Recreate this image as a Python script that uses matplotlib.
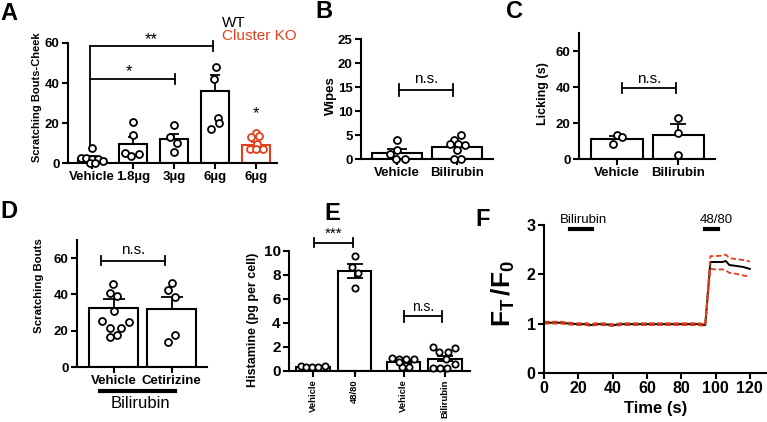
import matplotlib
matplotlib.use("Agg")
import matplotlib.pyplot as plt
import numpy as np

plt.rcParams['font.family'] = ['Liberation Sans', 'DejaVu Sans']
plt.rcParams['mathtext.fontset'] = 'custom'
plt.rcParams['mathtext.bf'] = 'Liberation Sans:bold'
plt.rcParams['mathtext.rm'] = 'Liberation Sans'
plt.rcParams['mathtext.it'] = 'Liberation Sans:italic'

RED = '#E2401C'

# ---------------- Data ----------------
# Panel A
A_cats = ['Vehicle', '1.8µg', '3µg', '6µg', '6µg']
A_means = [2.2, 9.3, 11.8, 35.8, 8.9]
A_sem = [1.4, 3.8, 2.9, 8.4, 1.8]
A_pts = [[7.7, 2.3, 2.5, 1.8, 1.8, 1.2, 0.2, 0.2],
         [20.7, 14.0, 4.8, 3.5, 4.3],
         [19.0, 13.2, 9.8, 5.7],
         [48.0, 42.0, 22.3, 20.0, 17.0],
         [14.8, 13.2, 13.5, 9.5, 7.2, 6.8, 7.2]]
A_off = [[0.0, -0.28, -0.14, 0.0, 0.14, 0.28, -0.06, 0.08],
         [0.0, 0.0, -0.2, -0.05, 0.15],
         [0.0, -0.1, 0.08, 0.0],
         [0.02, -0.02, 0.06, 0.1, -0.09],
         [0.0, -0.13, 0.08, 0.02, -0.16, 0.0, 0.16]]
A_colors = ['black', 'black', 'black', 'black', RED]

# Panel B
B_cats = ['Vehicle', 'Bilirubin']
B_means = [1.3, 2.4]
B_sem = [0.7, 0.8]
B_pts = [[4.0, 1.8, 1.0, 0.0, 0.0],
         [5.0, 4.0, 3.2, 3.2, 3.0, 1.8, 0.0, 0.0]]
B_off = [[0.0, 0.0, -0.12, -0.02, 0.13],
         [0.07, -0.05, -0.12, 0.02, 0.13, 0.0, -0.05, 0.07]]

# Panel C
C_cats = ['Vehicle', 'Bilirubin']
C_means = [11.1, 13.1]
C_sem = [1.7, 6.2]
C_pts = [[13.3, 12.2, 8.3], [23.0, 14.3, 2.2]]
C_off = [[0.0, 0.08, -0.06], [0.0, 0.0, 0.0]]

# Panel D
D_cats = ['Vehicle', 'Cetirizine']
D_means = [32.5, 31.9]
D_sem = [4.9, 6.9]
D_pts = [[45.6, 40.7, 38.9, 30.6, 25.5, 24.6, 21.7, 21.7, 16.8, 17.9],
         [46.4, 42.6, 38.8, 17.7, 13.7]]
D_off = [[-0.01, -0.07, 0.06, 0.0, -0.2, 0.26, -0.07, 0.12, -0.07, 0.06],
         [0.0, -0.07, 0.06, 0.06, -0.07]]

# Panel E
E_cats = ['Vehicle', '48/80', 'Vehicle', 'Bilirubin']
E_pos = [0, 1, 2.18, 3.18]
E_means = [0.33, 8.33, 0.78, 1.03]
E_sem = [0.05, 0.55, 0.12, 0.2]
E_pts = [[0.45, 0.3, 0.3, 0.3, 0.45],
         [9.6, 8.7, 8.2, 6.9],
         [1.1, 1.0, 1.0, 1.0, 0.3, 0.3, 0.75],
         [2.0, 1.58, 1.58, 1.95, 0.98, 0.28, 0.28, 0.28, 0.56]]
E_off = [[-0.3, -0.17, -0.03, 0.12, 0.29],
         [0.0, -0.07, 0.08, 0.0],
         [-0.27, -0.11, 0.05, 0.24, -0.03, 0.13, -0.12],
         [-0.28, -0.14, 0.06, 0.24, 0.02, -0.28, -0.12, 0.04, 0.24]]

# Panel F (time course)
F_t = [0, 5, 10, 15, 20, 25, 27, 30, 35, 40, 45, 50, 55, 60, 65, 70, 75, 80,
       85, 90, 94, 97, 100, 104, 106, 108, 112, 116, 120]
F_mean = [1.02, 1.02, 1.02, 1.00, 0.99, 0.99, 0.97, 0.99, 0.99, 0.97, 0.99,
          0.99, 0.99, 0.99, 0.99, 0.99, 0.99, 0.99, 0.99, 0.99, 0.97,
          2.25, 2.25, 2.25, 2.27, 2.19, 2.17, 2.15, 2.11]
F_upper = [1.04, 1.04, 1.04, 1.02, 1.01, 1.01, 0.99, 1.01, 1.01, 0.99, 1.01,
           1.01, 1.01, 1.01, 1.01, 1.01, 1.01, 1.01, 1.01, 1.01, 0.99,
           2.37, 2.37, 2.38, 2.40, 2.33, 2.31, 2.29, 2.26]
F_lower = [1.00, 1.00, 1.00, 0.98, 0.97, 0.97, 0.95, 0.97, 0.97, 0.95, 0.97,
           0.97, 0.97, 0.97, 0.97, 0.97, 0.97, 0.97, 0.97, 0.97, 0.95,
           2.11, 2.10, 2.10, 2.08, 2.03, 2.01, 1.98, 1.95]

W, H = 767, 422
fig = plt.figure(figsize=(W / 100, H / 100), dpi=100)


def rect(l, t, r, b):
    return [l / W, 1 - b / H, (r - l) / W, (b - t) / H]


def style(ax, fs=9.5):
    for s in ['top', 'right']:
        ax.spines[s].set_visible(False)
    for s in ['left', 'bottom']:
        ax.spines[s].set_linewidth(1.5)
    ax.tick_params(width=1.5, length=4, labelsize=fs, pad=2)
    for lab in ax.get_xticklabels() + ax.get_yticklabels():
        lab.set_fontweight('bold')


def bars(ax, pos, means, sem, pts, off, width, colors=None, both=False,
         ms=5, cap=4):
    for i, x in enumerate(pos):
        c = colors[i] if colors else 'black'
        ax.bar(x, means[i], width=width, facecolor='white', edgecolor=c,
               linewidth=1.5, zorder=2)
        lo = sem[i] if both else 0
        ax.errorbar(x, means[i], yerr=[[lo], [sem[i]]], color=c, capsize=cap,
                    elinewidth=1.3, capthick=1.3, zorder=3)
        ax.plot(np.array(off[i]) + x, pts[i], 'o', mfc='white', mec=c,
                mew=1.3, ms=ms, zorder=4, clip_on=False)


def bracket(ax, x1, x2, y, h, text, ty, fs=11):
    ax.plot([x1, x2], [y, y], color='black', lw=1.3, clip_on=False)
    ax.plot([x1, x1], [y - h, y + h], color='black', lw=1.3, clip_on=False)
    ax.plot([x2, x2], [y - h, y + h], color='black', lw=1.3, clip_on=False)
    ax.text((x1 + x2) / 2, ty, text, ha='center', va='center', fontsize=fs)


# ---------------- A ----------------
axA = fig.add_axes(rect(68, 43, 277, 163))
posA = np.arange(len(A_cats))
bars(axA, posA, A_means, A_sem, A_pts, A_off, 0.7, colors=A_colors, cap=3.6)
axA.set_xlim(-0.585, 4.51)
axA.set_ylim(0, 60)
axA.set_yticks([0, 20, 40, 60])
axA.set_xticks(posA)
axA.set_xticklabels(A_cats)
style(axA)
axA.set_ylabel('Scratching Bouts-Cheek', fontsize=8, fontweight='bold')
axA.yaxis.set_label_coords(-0.124, 0.55)
# brackets
axA.plot([-0.05, -0.05], [6, 58.3], color='black', lw=1.3)
axA.plot([-0.05, 2.95], [58.3, 58.3], color='black', lw=1.3, clip_on=False)
axA.plot([2.95, 2.95], [56, 61], color='black', lw=1.3, clip_on=False)
axA.plot([-0.05, 2.03], [42.2, 42.2], color='black', lw=1.3)
axA.plot([2.03, 2.03], [39.7, 44.7], color='black', lw=1.3)
axA.text(1.45, 61.8, '**', ha='center', va='center', fontsize=12)
axA.text(0.9, 45.5, '*', ha='center', va='center', fontsize=12)
axA.text(4.0, 24.5, '*', ha='center', va='center', fontsize=12)
fig.text(222 / W, 1 - 23 / H, 'WT', fontsize=11, va='center', ha='left')
fig.text(222 / W, 1 - 36 / H, 'Cluster KO', fontsize=11, va='center',
         ha='left', color=RED)

# ---------------- B ----------------
axB = fig.add_axes(rect(361, 39, 493, 159))
posB = np.arange(2)
bars(axB, posB, B_means, B_sem, B_pts, B_off, 0.82, cap=7.5)
axB.set_xlim(-0.6, 1.6)
axB.set_ylim(0, 25)
axB.set_yticks([0, 5, 10, 15, 20, 25])
axB.set_xticks(posB)
axB.set_xticklabels(B_cats)
style(axB)
axB.set_ylabel('Wipes', fontsize=9.5, fontweight='bold')
axB.yaxis.set_label_coords(-0.18, 0.525)
bracket(axB, 0.03, 0.93, 14.4, 1.2, 'n.s.', 16.6)

# ---------------- C ----------------
axC = fig.add_axes(rect(579, 33, 715, 159))
posC = np.arange(2)
bars(axC, posC, C_means, C_sem, C_pts, C_off, 0.84, cap=5.5)
axC.set_xlim(-0.62, 1.6)
axC.set_ylim(0, 70)
axC.set_yticks([0, 20, 40, 60])
axC.set_xticks(posC)
axC.set_xticklabels(C_cats)
style(axC)
axC.set_ylabel('Licking (s)', fontsize=9, fontweight='bold')
axC.yaxis.set_label_coords(-0.224, 0.52)
bracket(axC, 0.08, 0.96, 39.3, 2.7, 'n.s.', 44.5)

# ---------------- D ----------------
axD = fig.add_axes(rect(77, 240, 207, 367))
posD = np.arange(2)
bars(axD, posD, D_means, D_sem, D_pts, D_off, 0.84, cap=8)
axD.set_xlim(-0.63, 1.61)
axD.set_ylim(0, 70)
axD.set_yticks([0, 20, 40, 60])
axD.set_xticks(posD)
axD.set_xticklabels(D_cats)
style(axD)
axD.set_ylabel('Scratching Bouts', fontsize=8.2, fontweight='bold')
axD.yaxis.set_label_coords(-0.25, 0.64)
bracket(axD, -0.21, 0.88, 58.7, 2.7, 'n.s.', 64.5)
fig.add_artist(plt.Line2D([100 / W, 175 / W], [1 - 391 / H, 1 - 391 / H],
                          color='black', lw=3))
fig.text(140 / W, 1 - 404 / H, 'Bilirubin', fontsize=12, ha='center',
         va='center')

# ---------------- E ----------------
axE = fig.add_axes(rect(289, 251, 470, 371))
bars(axE, E_pos, E_means, E_sem, E_pts, E_off, 0.8, both=True, ms=4.5,
     cap=6)
axE.set_xlim(-0.58, 3.78)
axE.set_ylim(0, 10)
axE.set_yticks([0, 2, 4, 6, 8, 10])
axE.set_xticks(E_pos)
axE.set_xticklabels(E_cats, rotation=90)
style(axE, 11)
for lab in axE.get_xticklabels():
    lab.set_fontsize(6.8)
axE.set_ylabel('Histamine (pg per cell)', fontsize=9, fontweight='bold')
axE.yaxis.set_label_coords(-0.166, 0.425)
bracket(axE, 0.03, 0.95, 10.7, 0.35, '***', 11.4)
bracket(axE, 2.2, 3.1, 4.56, 0.45, 'n.s.', 5.35, fs=10)

# ---------------- F ----------------
axF = fig.add_axes(rect(544, 225, 767, 373))
axF.plot(F_t, F_upper, color=RED, lw=1.3, ls=(0, (3, 1.5)))
axF.plot(F_t, F_lower, color=RED, lw=1.3, ls=(0, (3, 1.5)))
axF.plot(F_t, F_mean, color='black', lw=1.4, zorder=1)
axF.set_xlim(0, 130)
axF.set_ylim(0, 3)
axF.set_xticks([0, 20, 40, 60, 80, 100, 120])
axF.set_yticks([0, 1, 2, 3])
style(axF, 11.5)
axF.set_xlabel('Time (s)', fontsize=12, fontweight='bold', labelpad=3)
axF.set_ylabel(r'$\mathbf{F_T\,/F_0}$', fontsize=19)
axF.yaxis.set_label_coords(-0.12, 0.54)
axF.plot([15, 28], [2.92, 2.92], color='black', lw=3, clip_on=False)
axF.plot([93.8, 101.5], [2.92, 2.92], color='black', lw=3, clip_on=False)
axF.text(23.3, 3.11, 'Bilirubin', fontsize=9.5, ha='center', va='center')
axF.text(100.7, 3.11, '48/80', fontsize=9.5, ha='center', va='center')

# Panel letters
for letter, x, y in [('A', 0, 13), ('B', 315, 12), ('C', 506, 12),
                     ('D', 0, 212), ('E', 324, 213), ('F', 475, 219)]:
    fig.text(x / W, 1 - y / H, letter, fontsize=17, fontweight='bold',
             va='center', ha='left')

fig.savefig('out.png', dpi=100)
